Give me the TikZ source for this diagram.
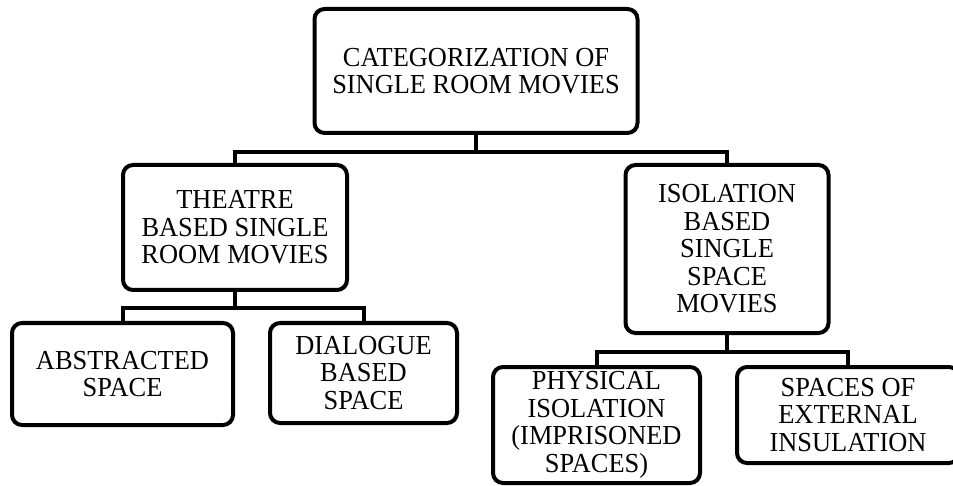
\documentclass[tikz,border=0pt]{standalone}
\usepackage{fontspec}
\setmainfont{Liberation Serif}[FakeStretch=0.96]
\usetikzlibrary{positioning}

\begin{document}
\begin{tikzpicture}[x=1pt, y=-1pt,
	catbox/.style={draw, line width=4pt, rounded corners=10pt, inner sep=0pt,
		align=center, font=\fontsize{27.5}{27.5}\selectfont},
	link/.style={line width=4pt}]
	\useasboundingbox (0,0) rectangle (953,486);
	\node[catbox, minimum width=323, minimum height=124] (cat) at (476, 71) {CATEGORIZATION OF\\SINGLE ROOM MOVIES};
	\node[catbox, minimum width=224, minimum height=125] (theatre) at (235, 227.5) {THEATRE\\BASED SINGLE\\ROOM MOVIES};
	\node[catbox, minimum width=203, minimum height=168] (isolation) at (727, 249) {ISOLATION\\BASED\\SINGLE\\SPACE\\MOVIES};
	\node[catbox, minimum width=221, minimum height=102] (abstracted) at (122.5, 374) {ABSTRACTED\\SPACE};
	\node[catbox, minimum width=187, minimum height=100] (dialogue) at (363.5, 373) {DIALOGUE\\BASED\\SPACE};
	\node[catbox, minimum width=207, minimum height=116] (physical) at (596.5, 425) {PHYSICAL\\ISOLATION\\(IMPRISONED\\SPACES)};
	\node[catbox, minimum width=222, minimum height=96] (external) at (848, 415) {SPACES OF\\EXTERNAL\\INSULATION};
	\draw[link] (cat.south) -- ++(0,17) coordinate (j1);
	\draw[link] (theatre.north) |- (j1) -| (isolation.north);
	\draw[link] (theatre.south) -- ++(0,16) coordinate (j2);
	\draw[link] (abstracted.north) |- (j2) -| (dialogue.north);
	\draw[link] (isolation.south) -- ++(0,17) coordinate (j3);
	\draw[link] (physical.north) |- (j3) -| (external.north);
\end{tikzpicture}
\end{document}
